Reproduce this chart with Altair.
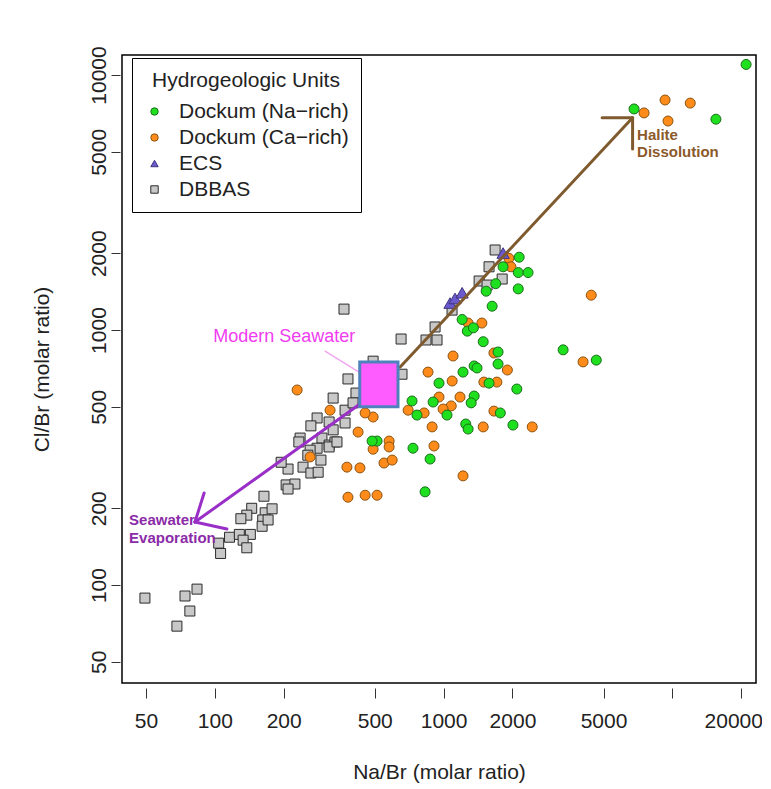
import altair as alt
import pandas as pd

FONT = "Liberation Sans"

# ---------------- data ----------------
units = ["Dockum (Na\u2212rich)", "Dockum (Ca\u2212rich)", "ECS", "DBBAS"]
unit_fill = ["#1FE01F", "#FF8C1A", "#6A5ACD", "#C8C8C8"]
unit_stroke = ["#1A6E1A", "#8A5311", "#3F3480", "#2B2B2B"]
unit_shape = ["circle", "circle", "triangle-up", "square"]

na_x = [21000, 6800, 15500, 2140, 1820, 2120, 2340, 1690, 2120, 1535,
        1630, 1205, 1270, 1350, 1490, 1730, 3330, 4650, 1730, 1360,
        1400, 1216, 955, 1580, 2090, 1360, 1320, 900, 728, 765,
        1035, 1770, 1250, 1280, 2010, 512, 487, 735, 873, 830]
na_y = [11000, 7360, 6710, 1930, 1770, 1680, 1680, 1520, 1450, 1420,
        1240, 1100, 990, 1020, 900, 820, 836, 762, 736, 723,
        710, 684, 619, 619, 587, 551, 518, 522, 527, 464,
        464, 473, 428, 409, 424, 367, 367, 344, 312, 232]

ca_x = [7520, 9290, 11970, 9570, 1930, 1970, 4420, 1470, 1280, 1100,
        855, 1090, 1900, 1660, 4070, 1500, 1710, 955, 1180, 1080,
        995, 700, 822, 1660, 1490, 2440, 891, 578, 578, 492,
        908, 423, 319, 378, 431, 549, 596, 1216, 382, 454,
        512, 261, 229, 492, 454]
ca_y = [7100, 7980, 7760, 6600, 1910, 1770, 1370, 1065, 1065, 791,
        684, 631, 697, 813, 750, 625, 625, 546, 546, 504,
        490, 485, 473, 481, 417, 417, 417, 367, 348, 341,
        351, 398, 485, 290, 288, 301, 309, 268, 221, 225,
        225, 318, 582, 456, 473]

ecs_x = [1067, 1122, 1205, 1820]
ecs_y = [1276, 1330, 1400, 2004]

db_x = [1680, 1580, 1430, 1549, 1803, 1089, 918, 838, 936, 652,
        367, 492, 658, 382, 414, 329, 371, 402, 280, 263,
        236, 316, 329, 371, 294, 316, 335, 209, 243, 205,
        224, 209, 263, 283, 316, 342, 280, 233, 261, 164,
        145, 138, 130, 166, 178, 162, 161, 171, 116, 128,
        143, 133, 104, 106, 138, 49.5, 74.1, 83.6, 77.8, 68.3,
        195, 291, 255]
db_y = [2060, 1770, 1557, 1501, 1585, 1197, 1028, 914, 914, 922,
        1208, 755, 671, 643, 566, 541, 485, 518, 452, 421,
        377, 436, 406, 432, 377, 354, 364, 285, 290, 247,
        249, 238, 275, 277, 348, 364, 344, 364, 338, 223,
        200, 188, 182, 192, 199, 180, 170, 180, 154, 158,
        158, 150, 146, 133, 140, 88.9, 90.6, 96.4, 79.1, 69.0,
        303, 309, 323]

x_ticks = [50, 100, 200, 500, 1000, 2000, 5000, 10000, 20000]
y_ticks = [50, 100, 200, 500, 1000, 2000, 5000, 10000]
x_domain = [39.3, 23200]
y_domain = [41.3, 11980]

# seawater box (Na/Br range, Cl/Br range)
sw_x = [430]; sw_x2 = [632]; sw_y = [500]; sw_y2 = [750]
# arrow segments: halite dissolution (brown) and seawater evaporation (purple)
seg_x = [646, 6700, 6700, 431, 81.9, 81.9]
seg_y = [716, 6800, 6800, 513, 176.6, 176.6]
seg_x2 = [6700, 4930, 6700, 81.9, 89.8, 113]
seg_y2 = [6800, 6800, 5130, 176.6, 229.6, 166]
seg_kind = ["halite"] * 3 + ["evap"] * 3
# leader line for "Modern Seawater"
lead_x = [302]; lead_y = [828]; lead_x2 = [427]; lead_y2 = [684]
# annotation text
msw_text = ["Modern Seawater"]; msw_x = [201]; msw_y = [940]
hal_text = ["Halite", "Dissolution"]; hal_x = [7010, 7010]; hal_y = [5820, 4990]
evp_text = ["Seawater", "Evaporation"]; evp_x = [42.2, 42.2]; evp_y = [180, 153]

# ---------------- tables ----------------
rows = []
for xs, ys, u in [(db_x, db_y, units[3]), (ca_x, ca_y, units[1]),
                  (na_x, na_y, units[0])]:
    for a, b in zip(xs, ys):
        rows.append({"x": a, "y": b, "unit": u})
pts = pd.DataFrame(rows)
ecs = pd.DataFrame({"x": ecs_x, "y": ecs_y, "unit": [units[2]] * len(ecs_x)})

segs = pd.DataFrame({"x": seg_x, "y": seg_y, "x2": seg_x2, "y2": seg_y2, "kind": seg_kind})
lead = pd.DataFrame({"x": lead_x, "y": lead_y, "x2": lead_x2, "y2": lead_y2})
box = pd.DataFrame({"x": sw_x, "x2": sw_x2, "y": sw_y, "y2": sw_y2})
msw = pd.DataFrame({"x": msw_x, "y": msw_y, "t": msw_text})
hal = pd.DataFrame({"x": hal_x, "y": hal_y, "t": hal_text})
evp = pd.DataFrame({"x": evp_x, "y": evp_y, "t": evp_text})

# ---------------- scales / axes ----------------
xs_ = alt.Scale(type="log", domain=x_domain, nice=False, zero=False)
ys_ = alt.Scale(type="log", domain=y_domain, nice=False, zero=False)

x_axis = alt.Axis(values=x_ticks, format="d",
                  labelExpr="datum.value == 10000 ? '' : datum.label",
                  labelOffset={"condition": {"test": "datum.value == 20000", "value": -8}, "value": 0},
                  grid=False, domain=False, offset=5, tickSize=10,
                  tickColor="#333333", labelPadding=12, labelOverlap=False,
                  labelFlush=False, titlePadding=30)
y_axis = alt.Axis(values=y_ticks, format="d", labelAngle=270,
                  labelAlign="center", labelBaseline="bottom",
                  grid=False, domain=False, offset=2, tickSize=9,
                  tickColor="#333333", labelPadding=2, labelOverlap=False,
                  labelFlush=False, titlePadding=36)

XT = "Na/Br (molar ratio)"
YT = "Cl/Br (molar ratio)"


def X():
    return alt.X("x:Q", scale=xs_, axis=x_axis, title=XT)


def Y():
    return alt.Y("y:Q", scale=ys_, axis=y_axis, title=YT)


legend = alt.Legend(orient="none", legendX=10, legendY=3,
                    title="Hydrogeologic Units", titleAnchor="middle",
                    titleFontSize=21, titleFont=FONT, titleFontWeight="normal",
                    titleColor="#222222", titlePadding=10, titleLimit=400,
                    labelFontSize=21, labelFont=FONT, labelColor="#222222",
                    labelLimit=300, labelOffset=14, symbolSize=55,
                    symbolStrokeWidth=1, rowPadding=4, padding=12,
                    strokeColor="black", fillColor="white")


def unit_enc():
    return dict(
        fill=alt.Fill("unit:N", scale=alt.Scale(domain=units, range=unit_fill), legend=legend, title="Hydrogeologic Units"),
        stroke=alt.Stroke("unit:N", scale=alt.Scale(domain=units, range=unit_stroke), legend=legend, title="Hydrogeologic Units"),
        shape=alt.Shape("unit:N", scale=alt.Scale(domain=units, range=unit_shape), legend=legend, title="Hydrogeologic Units"),
    )


points = alt.Chart(pts).mark_point(filled=True, size=100, opacity=1, strokeWidth=1).encode(
    x=X(), y=Y(), **unit_enc())
ecs_layer = alt.Chart(ecs).mark_point(filled=True, size=150, opacity=1, strokeWidth=1).encode(
    x=X(), y=Y(), **unit_enc())

seg_layer = alt.Chart(segs).mark_rule(strokeWidth=3, strokeCap="round").encode(
    x=X(), y=Y(), x2="x2:Q", y2="y2:Q",
    color=alt.Color("kind:N", scale=alt.Scale(domain=["halite", "evap"], range=["#7F5A2E", "#9A2FC8"]), legend=None),
)

lead_layer = alt.Chart(lead).mark_rule(strokeWidth=1.5, color="#F2A6F2").encode(
    x=X(), y=Y(), x2="x2:Q", y2="y2:Q")

box_layer = alt.Chart(box).mark_rect(fill="#FF5CFF", stroke="#4F81BD", strokeWidth=3).encode(
    x=X(), y=Y(), x2="x2:Q", y2="y2:Q")

msw_layer = alt.Chart(msw).mark_text(font=FONT, fontSize=18, color="#F03CF0").encode(
    x=X(), y=Y(), text="t:N")
hal_layer = alt.Chart(hal).mark_text(font=FONT, fontSize=15, fontWeight="bold", color="#8B5A2B", align="left").encode(
    x=X(), y=Y(), text="t:N")
evp_layer = alt.Chart(evp).mark_text(font=FONT, fontSize=15, fontWeight="bold", color="#8B2BA8", align="left").encode(
    x=X(), y=Y(), text="t:N")

chart = alt.layer(points, ecs_layer, seg_layer, lead_layer, box_layer, msw_layer, hal_layer, evp_layer).properties(
    width=634, height=628,
    padding={"left": 114, "top": 47, "right": 6, "bottom": 100},
    autosize=alt.AutoSizeParams(type="none"),
    background="white",
).configure_view(
    stroke="black", strokeWidth=1.5
).configure_axis(
    labelFont=FONT, labelFontSize=21, labelColor="#222222",
    titleFont=FONT, titleFontSize=21, titleFontWeight="normal", titleColor="#222222",
)

chart.save("out.html", embed_options={"renderer": "svg", "actions": False})
